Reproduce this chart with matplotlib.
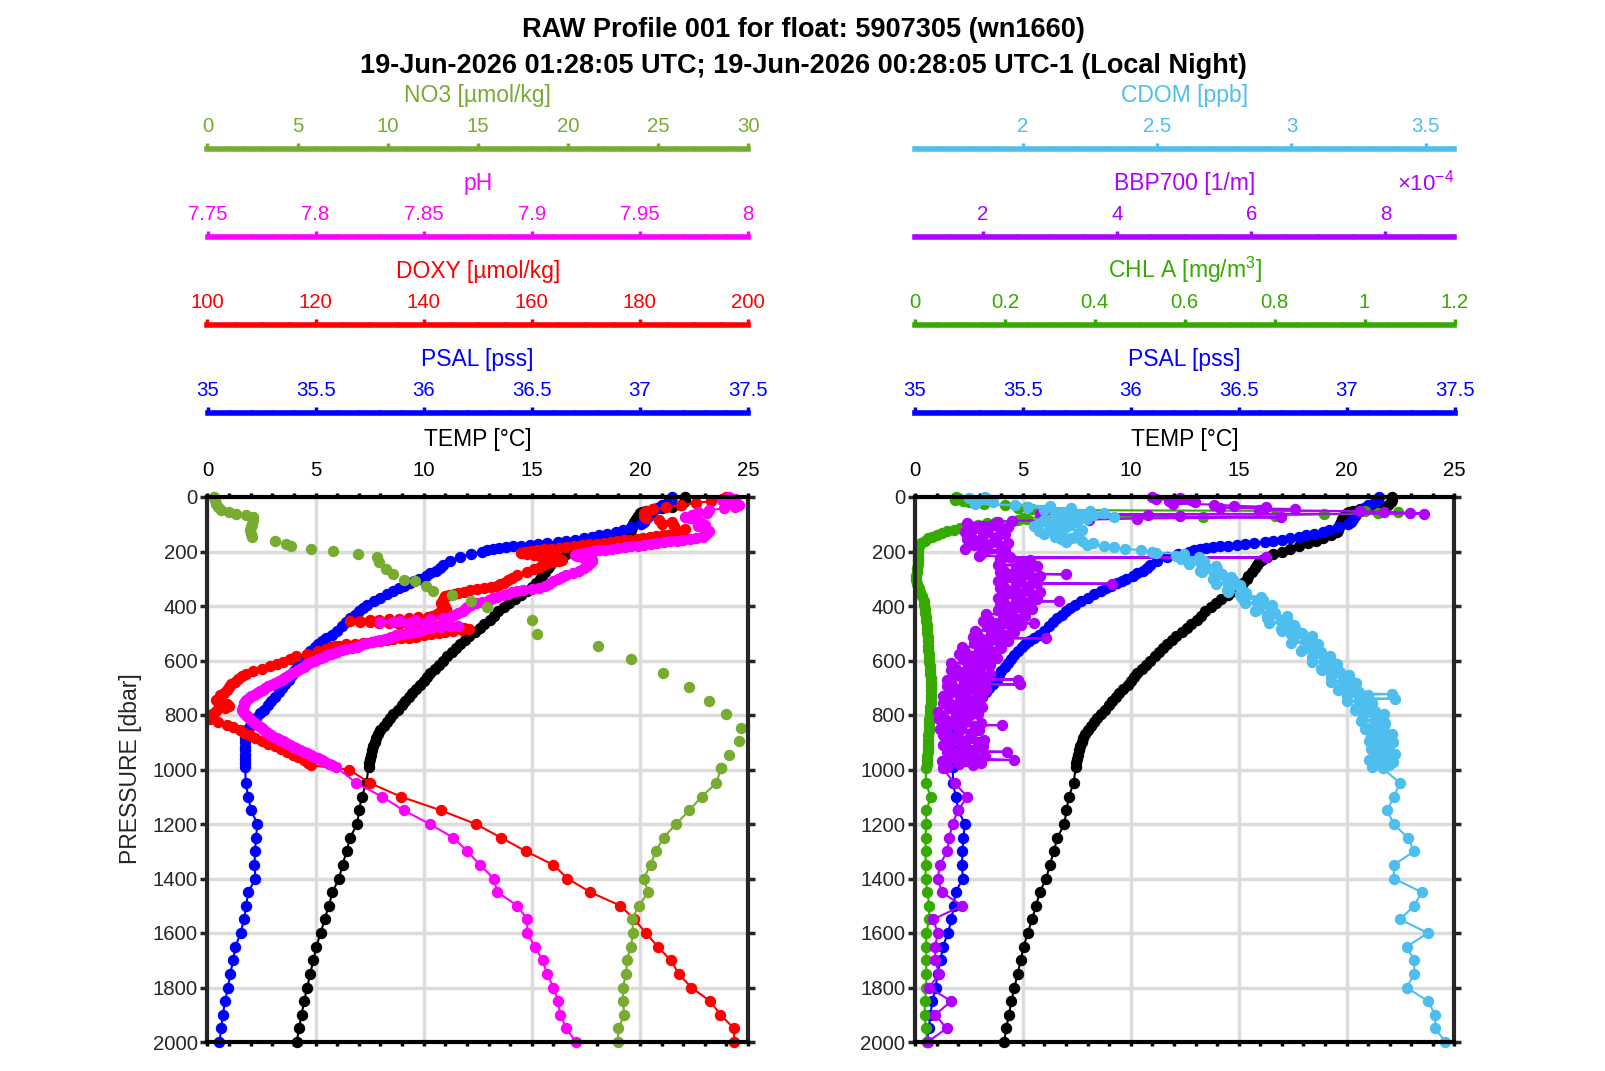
import matplotlib
matplotlib.use('Agg')
import matplotlib.pyplot as plt
from matplotlib.ticker import MultipleLocator, FuncFormatter

plt.rcParams['font.family'] = ['Liberation Sans', 'DejaVu Sans']
plt.rcParams['mathtext.fontset'] = 'custom'
plt.rcParams['mathtext.rm'] = 'Liberation Sans'
plt.rcParams['mathtext.it'] = 'Liberation Sans:italic'
plt.rcParams['mathtext.bf'] = 'Liberation Sans:bold'

# ---------------- data (pressure [dbar], value) ----------------
DEEP_P = [1050, 1100, 1150, 1200, 1250, 1300, 1350, 1400, 1450, 1500,
          1550, 1600, 1650, 1700, 1750, 1800, 1850, 1900, 1950, 2000]

TEMP_UPPER = [(0,22.1),(10,22.1),(20,22.05),(30,21.9),(35,21.5),(40,21.0),(45,20.6),(50,20.3),(55,20.1),
    (60,20.0),(70,19.9),(80,19.8),(90,19.75),(100,19.7),(110,19.65),(120,19.6),(130,19.55),(140,19.3),
    (150,18.9),(160,18.56),(170,18.2),(180,17.8),(190,17.4),(200,17.0),(210,16.6),(220,16.3),(230,16.1),
    (240,15.95),(250,15.85),(260,15.75),(275,15.6),(290,15.45),(300,15.4),(315,15.2),(330,15.0),
    (345,14.76),(360,14.5),(375,14.2),(390,13.93),(405,13.7),(420,13.45),(435,13.25),(450,13.05),
    (465,12.8),(480,12.6),(495,12.35),(510,12.1),(525,11.9),(540,11.7),(555,11.5),(570,11.3),(585,11.1),
    (600,10.9),(615,10.7),(630,10.5),(645,10.3),(660,10.15),(675,10.0),(690,9.85),(705,9.65),(720,9.45),
    (735,9.3),(750,9.15),(765,9.0),(780,8.8),(795,8.6),(810,8.45),(825,8.3),(840,8.15),(855,8.0),
    (870,7.9),(885,7.8),(900,7.75),(915,7.65),(930,7.6),(945,7.55),(960,7.5),(975,7.48),(990,7.45)]
TEMP_DEEP = [7.35, 7.13, 7.02, 6.92, 6.60, 6.43, 6.25, 6.08, 5.78, 5.61,
             5.42, 5.23, 5.03, 4.90, 4.75, 4.61, 4.47, 4.35, 4.23, 4.13]

PSAL_UPPER = [(0,37.150),(10,37.145),(20,37.130),(30,37.100),(40,37.080),(50,37.060),(60,37.047),(70,37.040),
    (80,37.030),(90,37.020),(100,37.006),(110,36.960),(120,36.920),(128,36.890),(135,36.850),(141,36.810),
    (147,36.780),(152,36.740),(157,36.700),(161,36.660),(165,36.620),(169,36.570),(172,36.530),(175,36.490),
    (178,36.450),(181,36.415),(184,36.380),(187,36.350),(190,36.320),(195,36.295),(200,36.270),(209,36.220),
    (220,36.170),(234,36.120),(250,36.090),(260,36.075),(271,36.055),(280,36.030),(290,36.010),(300,35.980),
    (308,35.957),(317,35.935),(325,35.910),(335,35.885),(345,35.860),(357,35.830),(370,35.800),(382,35.770),
    (395,35.740),(408,35.720),(420,35.700),(432,35.680),(444,35.660),(460,35.640),(475,35.620),(490,35.600),
    (506,35.575),(518,35.550),(530,35.530),(540,35.510),(549,35.495),(565,35.475),(580,35.460),(595,35.445),
    (610,35.430),(625,35.415),(640,35.400),(655,35.390),(671,35.378),(685,35.360),(700,35.345),(716,35.330),
    (733,35.310),(750,35.295),(765,35.280),(780,35.260),(794,35.245),(810,35.225),(825,35.210),(840,35.195),
    (855,35.180),(870,35.175),(885,35.172),(900,35.172),(916,35.172),(930,35.172),(945,35.172),(960,35.172),
    (977,35.173),(990,35.175)]
PSAL_DEEP = [35.176, 35.189, 35.201, 35.231, 35.224, 35.220, 35.217, 35.222, 35.188, 35.179,
             35.169, 35.153, 35.129, 35.119, 35.105, 35.095, 35.081, 35.071, 35.064, 35.055]

DOXY_UPPER = [(0,195.9),(8,195.2),(15,193.2),(22,190.4),(30,187.6),(38,184.8),(45,182.4),(52,181.2),(60,180.8),
    (68,180.8),(76,181.2),(84,183.6),(92,186.0),(100,184.0),(108,186.4),(116,188.4),(124,188.0),(131,186.4),
    (138,185.2),(141,184.2),(144,183.0),(147,181.8),(150,180.6),(153,179.4),(156,178.2),(159,177.0),(162,175.8),
    (165,174.6),(168,173.4),(171,172.0),(174,170.6),(177,169.2),(180,167.8),(183,166.4),(186,165.0),(189,163.6),
    (192,162.2),(195,161.0),(198,159.8),(201,158.8),(204,158.0),(207,158.4),(210,159.2),(213,160.4),(216,161.6),
    (219,162.8),(222,164.0),(226,165.0),(230,165.6),(234,165.0),(238,164.0),(242,162.8),(246,162.2),(250,162.0),
    (258,161.6),(266,160.4),(275,159.2),(285,157.2),(296,156.4),(305,155.6),(315,154.8),(321,154.2),(327,153.6),
    (331,152.4),(335,151.2),(339,149.8),(343,148.6),(347,147.4),(351,146.4),(355,145.6),(360,144.6),(365,144.0),
    (372,143.8),(378,143.6),(384,143.3),(390,143.2),(395,143.4),(400,143.6),(405,144.0),(410,144.2),(415,143.8),
    (420,143.2),(425,142.8),(430,142.4),(435,141.6),(440,140.8),(442,139.0),(444,137.2),(446,135.4),(448,133.6),
    (450,131.8),(452,130.0),(454,128.2),(456,126.4),(458,128.2),(460,130.0),(462,131.8),(464,133.6),(466,135.4),
    (468,137.2),(470,139.0),(472,140.8),(474,142.6),(476,144.4),(478,146.0),(481,147.4),(484,148.4),(488,147.0),
    (492,145.4),(496,144.0),(500,142.8),(504,141.4),(508,140.0),(512,138.6),(516,137.2),(519,135.8),(522,134.4),
    (525,133.2),(529,132.0),(532,130.4),(535,128.8),(538,127.2),(541,125.6),(545,124.4),(548,123.6),(552,122.8),
    (556,122.0),(565,120.4),(575,118.4),(585,116.4),(595,115.2),(605,114.0),(612,112.8),(620,111.6),(630,110.0),
    (639,108.4),(648,107.2),(658,106.4),(668,105.6),(678,105.0),(688,104.4),(698,104.0),(708,103.6),(718,103.0),
    (728,102.4),(737,102.2),(745,101.6),(752,102.0),(760,103.6),(768,104.0),(776,103.2),(786,101.6),(796,100.8),
    (806,100.5),(816,100.5),(825,102.0),(835,103.6),(845,104.8),(855,106.0),(865,106.8),(875,107.8),(885,108.8),
    (895,110.0),(905,111.2),(915,112.4),(925,113.6),(935,114.8),(945,115.8),(955,116.8),(965,117.8),(975,118.6),
    (985,119.2),(1000,126.1)]
DOXY_DEEP = [130.1, 135.8, 143.2, 149.6, 154.3, 158.9, 164.0, 166.6, 170.8, 176.4,
             179.0, 181.1, 183.3, 185.7, 187.2, 189.5, 193.0, 194.9, 197.4, 197.4]

PH_UPPER = [(0,7.991),(6,7.994),(12,7.988),(18,7.993),(24,7.994),(30,7.996),(36,7.994),(42,7.989),(48,7.982),
    (54,7.977),(60,7.981),(66,7.974),(72,7.971),(78,7.973),(84,7.976),(90,7.978),(96,7.978),(102,7.980),
    (108,7.977),(114,7.980),(120,7.981),(126,7.982),(132,7.981),(138,7.980),(144,7.979),(148,7.979),(151,7.976),
    (154,7.973),(157,7.970),(160,7.967),(163,7.964),(166,7.961),(169,7.958),(172,7.955),(175,7.952),(178,7.949),
    (181,7.946),(184,7.943),(187,7.940),(190,7.937),(193,7.934),(196,7.931),(199,7.929),(202,7.927),(205,7.924),
    (208,7.922),(212,7.920),(216,7.921),(220,7.923),(225,7.926),(230,7.928),(236,7.928),(242,7.927),(248,7.926),
    (255,7.925),(262,7.924),(270,7.922),(278,7.919),(286,7.916),(294,7.914),(302,7.912),(310,7.910),(318,7.908),
    (326,7.906),(334,7.9035),(338,7.900),(342,7.896),(346,7.893),(350,7.891),(355,7.889),(360,7.887),(366,7.884),
    (372,7.882),(378,7.880),(384,7.877),(390,7.874),(396,7.872),(402,7.870),(410,7.869),(418,7.868),(426,7.866),
    (434,7.864),(440,7.862),(445,7.859),(448,7.853),(451,7.846),(454,7.839),(457,7.830),(460,7.836),(463,7.843),
    (466,7.851),(469,7.858),(472,7.866),(475,7.862),(478,7.858),(482,7.854),(486,7.850),(490,7.848),(494,7.846),
    (498,7.843),(502,7.840),(507,7.837),(512,7.835),(516,7.834),(520,7.832),(525,7.830),(529,7.828),(533,7.826),
    (537,7.824),(541,7.822),(545,7.820),(549,7.819),(553,7.817),(558,7.814),(562,7.812),(567,7.810),(571,7.8085),
    (576,7.807),(581,7.8055),(586,7.804),(590,7.8025),(595,7.801),(600,7.7995),(605,7.798),(610,7.797),(614,7.796),
    (619,7.7953),(623,7.7945),(629,7.7932),(635,7.792),(641,7.7905),(647,7.789),(653,7.7878),(659,7.7865),
    (665,7.7855),(671,7.7845),(677,7.783),(683,7.781),(689,7.7795),(695,7.778),(701,7.7768),(707,7.7755),
    (713,7.7742),(720,7.773),(726,7.7715),(732,7.770),(738,7.769),(745,7.768),(751,7.7675),(757,7.767),
    (763,7.7668),(769,7.7665),(775,7.7663),(781,7.766),(787,7.7665),(793,7.767),(799,7.7678),(805,7.7685),
    (811,7.7692),(818,7.770),(824,7.771),(830,7.772),(836,7.773),(842,7.774),(848,7.775),(855,7.776),(861,7.777),
    (867,7.778),(873,7.7793),(879,7.7805),(885,7.782),(891,7.7835),(897,7.785),(903,7.7865),(909,7.788),
    (916,7.7895),(922,7.791),(928,7.793),(934,7.7945),(940,7.796),(946,7.7977),(953,7.7994),(959,7.801),
    (965,7.803),(971,7.8045),(978,7.806),(984,7.8075),(990,7.8093)]
PH_DEEP = [7.8189, 7.8308, 7.8407, 7.8528, 7.8636, 7.8702, 7.8760, 7.8824, 7.8841, 7.8933,
           7.8979, 7.8979, 7.9013, 7.9050, 7.9070, 7.9100, 7.9122, 7.9131, 7.9160, 7.9203]

NO3_UPPER = [(0,0.38),(12,0.42),(24,0.48),(36,0.6),(48,0.77),(55,1.17),(61,1.57),(67,2.16),(73,2.55),(85,2.5),
    (98,2.46),(110,2.4),(122,2.37),(135,2.42),(147,2.46),(160,3.75),(172,4.34),(178,4.64),(191,5.73),(197,6.96),
    (209,8.35),(222,9.40),(240,9.50),(265,9.90),(284,10.3),(303,10.9),(309,11.5),(327,12.1),(346,12.5),
    (361,13.56),(381,14.65),(402,15.5),(451,18.0),(501,18.3),(547,21.7),(596,23.5),(647,25.3),(698,26.7),
    (747,27.84),(797,28.8),(849,29.6),(895,29.5),(947,28.97),(996,28.5)]
NO3_DEEP = [28.24, 27.42, 26.74, 26.01, 25.31, 24.88, 24.59, 24.21, 24.46, 23.95,
            23.55, 23.64, 23.49, 23.28, 23.24, 23.04, 23.08, 23.12, 22.81, 22.77]

CHL_UPPER = [(0,0.091),(5,0.096),(10,0.089),(15,0.106),(20,0.12),(25,0.154),(30,0.20),(35,0.25),(40,0.23),
    (44,0.26),(48,0.29),(52,1.00),(56,1.075),(60,1.03),(64,0.91),(68,0.80),(72,0.64),(76,0.24),(80,0.25),
    (84,0.23),(88,0.216),(92,0.18),(97,0.16),(102,0.14),(108,0.12),(114,0.10),(120,0.086),(126,0.072),
    (132,0.06),(138,0.048),(145,0.038),(152,0.029),(160,0.022),(170,0.014),(180,0.0096),(190,0.007),
    (200,0.006),(215,0.006),(230,0.0058),(245,0.006),(260,0.005),(275,0.004),(290,0.003),(305,0.003),
    (320,0.005),(335,0.008),(350,0.012),(365,0.016),(380,0.019),(395,0.021),(410,0.022),(425,0.023),
    (440,0.024),(455,0.025),(470,0.026),(485,0.027),(500,0.027),(515,0.028),(530,0.028),(545,0.029),
    (560,0.03),(575,0.031),(590,0.032),(605,0.032),(620,0.033),(635,0.033),(650,0.034),(665,0.035),
    (680,0.035),(695,0.036),(710,0.036),(725,0.035),(740,0.035),(755,0.035),(770,0.034),(785,0.033),
    (800,0.033),(815,0.032),(830,0.032),(845,0.031),(860,0.031),(875,0.03),(890,0.03),(905,0.029),
    (920,0.029),(935,0.028),(950,0.027),(965,0.027),(980,0.026),(995,0.025)]
CHL_DEEP = [0.0235, 0.0355, 0.025, 0.025, 0.0235, 0.0235, 0.0235, 0.0235, 0.0274, 0.0317,
            0.0317, 0.025, 0.025, 0.025, 0.025, 0.025, 0.0216, 0.0216, 0.0235, 0.0274]

# BBP700 in units of 1e-4 1/m
BBP_UPPER_E4 = [(0,4.52),(4,4.94),(8,4.58),(12,5.10),(16,4.78),(20,5.16),(24,4.84),(28,5.45),(32,5.74),
    (36,6.22),(40,5.54),(44,6.66),(48,6.12),(52,7.62),(55,7.98),(58,8.36),(61,8.58),(63,2.86),(67,4.46),
    (71,4.94),(75,6.44),(79,4.30),(83,3.59),(87,2.44),(91,2.22),
    (95,1.77),(100,2.17),(105,1.97),(110,2.37),(115,1.87),(120,2.27),(125,2.07),(130,1.74),(135,2.33),
    (140,2.01),(145,2.21),(150,1.84),(155,1.77),(160,2.17),(165,1.97),(170,2.37),(175,1.87),(180,2.27),
    (185,2.07),(190,1.74),(195,2.33),(200,2.01),(205,2.29),(210,1.97),(215,1.95),(220,2.40),(222,6.22),
    (225,2.25),(230,2.70),(235,2.25),(240,2.70),(245,2.55),(250,2.22),(255,2.81),(260,2.49),(265,2.69),
    (270,2.32),(275,2.25),(280,2.65),(284,3.24),(285,2.45),(290,2.85),(295,2.35),(300,2.75),(305,2.55),
    (310,2.22),(315,2.81),(318,3.93),(320,2.49),(325,2.69),(330,2.32),(335,2.25),(340,2.65),(345,2.45),
    (350,2.85),(355,2.35),(360,2.75),(365,2.55),(370,2.22),(375,2.81),(380,2.49),(383,3.13),(385,2.69),
    (390,2.32),(395,2.25),(400,2.65),(405,2.35),(410,2.74),(415,2.22),(420,2.61),(425,2.40),(430,2.05),
    (435,2.63),(440,2.30),(445,2.48),(450,2.10),(455,2.01),(460,2.40),(464,2.76),(465,2.19),(470,2.57),
    (475,2.06),(480,2.44),(485,2.23),(490,1.88),(495,2.46),(500,2.13),(505,2.31),(510,1.93),(515,1.85),
    (519,2.94),(520,2.25),(525,2.00),(530,2.38),(535,1.87),(540,2.26),(545,2.04),(550,1.69),(555,2.27),
    (560,1.94),(565,2.12),(570,1.74),(575,1.65),(580,2.04),(585,1.82),(590,2.21),(595,1.70),(600,2.08),
    (605,1.87),(610,1.53),(615,2.11),(620,1.78),(625,1.97),(630,1.60),(635,1.52),(640,1.92),(645,1.71),
    (650,2.11),(655,1.60),(660,2.00),(665,1.79),(670,2.53),(672,1.46),(675,2.04),(680,1.72),(685,1.91),
    (688,2.56),(690,1.54),(695,1.46),(700,1.86),(705,1.65),(710,2.05),(715,1.54),(720,1.94),(725,1.73),
    (730,1.40),(735,1.98),(740,1.66),(745,1.85),(750,1.48),(755,1.40),(760,1.80),(765,1.60),(770,1.99),
    (775,1.49),(780,1.88),(785,1.68),(790,1.34),(795,1.93),(800,1.60),(805,1.80),(810,1.42),(815,1.35),
    (820,1.75),(825,1.56),(830,1.97),(835,1.47),(837,2.28),(840,1.88),(845,1.68),(850,1.36),(855,1.95),
    (860,1.64),(865,1.84),(870,1.47),(875,1.41),(880,1.81),(885,1.62),(890,2.02),(895,1.53),(900,1.93),
    (905,1.74),(910,1.41),(915,2.01),(920,1.69),(925,1.90),(930,1.53),(935,2.36),(937,1.46),(940,1.85),
    (945,1.65),(950,2.04),(955,1.54),(960,1.93),(965,2.47),(967,1.73),(970,1.39),(975,1.98),(980,1.65),
    (985,1.85),(990,1.47),(995,1.40)]
BBP_DEEP_E4 = [1.58, 1.77, 1.63, 1.55, 1.50, 1.47, 1.36, 1.33, 1.39, 1.69,
               1.26, 1.33, 1.29, 1.29, 1.35, 1.20, 1.53, 1.29, 1.46, 1.18]

CDOM_UPPER = [(0,1.86),(5,1.80),(10,1.88),(15,1.83),(20,1.89),(25,1.82),(30,1.97),(34,2.10),(38,2.02),
    (42,2.18),(46,2.08),(50,2.25),(54,2.16),(58,2.30),(62,2.12),(66,2.26),(70,2.20),(74,2.34),(78,2.14),
    (82,2.24),(86,2.08),(90,2.20),(95,2.06),(100,2.18),(105,2.04),(110,2.16),(115,2.10),(120,2.22),(125,2.06),
    (130,2.14),(135,2.08),(140,2.20),(145,2.12),(150,2.18),(155,2.14),(160,2.22),(165,2.16),(170,2.26),
    (175,2.24),(180,2.30),(185,2.34),(190,2.38),(195,2.44),(200,2.48),
    (204,2.495),(210,2.60),(216,2.57),(222,2.655),(228,2.587),(234,2.673),(240,2.66),(246,2.618),(252,2.719),
    (258,2.68),(264,2.723),(270,2.661),(276,2.665),(282,2.74),(288,2.71),(294,2.775),(300,2.707),(306,2.783),
    (312,2.76),(318,2.718),(324,2.809),(330,2.77),(336,2.813),(342,2.761),(348,2.765),(354,2.83),(360,2.81),
    (366,2.885),(372,2.817),(378,2.893),(384,2.87),(390,2.828),(396,2.929),(402,2.88),(408,2.923),(414,2.871),
    (420,2.865),(426,2.94),(432,2.91),(438,2.985),(444,2.907),(450,2.983),(456,2.96),(462,2.918),(468,3.009),
    (474,2.97),(480,3.013),(486,2.961),(492,2.965),(498,3.04),(504,3.00),(510,3.075),(516,3.007),(522,3.073),
    (528,3.05),(534,2.998),(540,3.099),(546,3.06),(552,3.093),(558,3.041),(564,3.035),(570,3.11),(576,3.08),
    (582,3.145),(588,3.077),(594,3.143),(600,3.12),(606,3.078),(612,3.169),(618,3.13),(624,3.163),(630,3.111),
    (636,3.115),(642,3.18),(648,3.15),(654,3.215),(660,3.147),(666,3.213),(672,3.19),(678,3.148),(684,3.239),
    (690,3.20),(696,3.233),(702,3.181),(708,3.175),(714,3.25),(720,3.21),(723,3.375),(726,3.285),(732,3.207),
    (738,3.283),(740,3.385),(744,3.25),(750,3.208),(756,3.299),(762,3.26),(768,3.293),(774,3.241),(780,3.235),
    (786,3.31),(792,3.27),(798,3.345),(804,3.267),(810,3.333),(816,3.31),(822,3.258),(828,3.349),(834,3.31),
    (840,3.343),(846,3.281),(852,3.275),(858,3.34),(864,3.31),(870,3.375),(876,3.297),(882,3.363),(888,3.33),
    (894,3.288),(900,3.379),(906,3.33),(912,3.363),(918,3.301),(924,3.295),(930,3.36),(936,3.32),(942,3.385),
    (948,3.307),(954,3.373),(960,3.34),(966,3.288),(972,3.379),(978,3.33),(984,3.363),(990,3.301),(996,3.34)]
CDOM_DEEP = [3.404, 3.381, 3.356, 3.381, 3.432, 3.457, 3.381, 3.381, 3.485, 3.457,
             3.404, 3.508, 3.429, 3.457, 3.457, 3.429, 3.508, 3.535, 3.535, 3.573]

TITLE_1 = 'RAW Profile 001 for float: 5907305 (wn1660)'
TITLE_2 = '19-Jun-2026 01:28:05 UTC; 19-Jun-2026 00:28:05 UTC-1 (Local Night)'

# ---------------- styling ----------------
C_TEMP, C_PSAL, C_DOXY, C_PH, C_NO3 = 'black', '#0000FF', '#FF0000', '#FF00FF', '#77AC30'
C_CDOM, C_BBP, C_CHL = '#4DBEEE', '#B000FF', '#36AA00'
DARK = '#262626'
TICK_FS, LABEL_FS, TITLE_FS = 14.7, 16.5, 19.5

W, H = 1606, 1071
fig = plt.figure(figsize=(W / 100, H / 100), dpi=100)
fig.patch.set_facecolor('white')


def fx(px):
    return px / W


def fy(py):
    return 1 - py / H


MAIN_TOP, MAIN_BOT = 497, 1042
PANELS = {'left': (207.5, 748.0), 'right': (915.0, 1454.5)}
LINE_Y = [149, 237, 325, 413]


def gfmt(scale=1.0):
    return FuncFormatter(lambda v, p: '%g' % round(v * scale, 6))


def main_axes(x0, x1):
    rect = [fx(x0), fy(MAIN_BOT), fx(x1 - x0), (MAIN_BOT - MAIN_TOP) / H]
    ax = fig.add_axes(rect, zorder=0)
    ax.set_xlim(0, 25)
    ax.set_ylim(2000, 0)
    ax.xaxis.set_major_locator(MultipleLocator(5))
    ax.xaxis.set_minor_locator(MultipleLocator(1))
    ax.yaxis.set_major_locator(MultipleLocator(200))
    ax.xaxis.set_major_formatter(gfmt())
    ax.xaxis.set_label_position('top')
    ax.tick_params(axis='x', which='both', top=True, bottom=True, labeltop=True, labelbottom=False,
                   direction='out', width=2.5, color='black', labelsize=TICK_FS, labelcolor='black')
    ax.tick_params(axis='x', which='major', length=3, pad=9.3)
    ax.tick_params(axis='x', which='minor', length=3)
    ax.tick_params(axis='y', which='major', left=True, right=True, direction='out', length=5,
                   width=2.5, color=DARK, labelsize=TICK_FS, labelcolor=DARK, pad=2)
    ax.set_xlabel('TEMP [°C]', fontsize=LABEL_FS, color='black', labelpad=11)
    ax.grid(True, which='major', color='#dcdcdc', linewidth=2.5)
    for s in ax.spines.values():
        s.set_visible(False)
    frame = fig.add_axes(rect, zorder=5)
    frame.patch.set_visible(False)
    frame.set_xticks([])
    frame.set_yticks([])
    for k, s in frame.spines.items():
        s.set_linewidth(3)
        s.set_color('black' if k in ('top', 'bottom') else DARK)
    return ax, rect


def data_axes(rect, lo, hi, z):
    dax = fig.add_axes(rect, zorder=z)
    dax.set_xlim(lo, hi)
    dax.set_ylim(2000, 0)
    dax.axis('off')
    dax.patch.set_visible(False)
    return dax


def scale_axes(x0, x1, yline, lo, hi, major, minor, color, label, scale=1.0):
    ax = fig.add_axes([fx(x0), fy(yline), fx(x1 - x0), 0.0001], zorder=3)
    ax.set_xlim(lo, hi)
    ax.set_yticks([])
    ax.patch.set_visible(False)
    for k in ('left', 'right', 'bottom'):
        ax.spines[k].set_visible(False)
    ax.spines['top'].set_color(color)
    ax.spines['top'].set_linewidth(4)
    ax.xaxis.tick_top()
    ax.xaxis.set_label_position('top')
    ax.xaxis.set_major_locator(MultipleLocator(major))
    ax.xaxis.set_minor_locator(MultipleLocator(minor))
    ax.xaxis.set_major_formatter(gfmt(scale))
    ax.tick_params(axis='x', which='major', direction='out', length=4.5, width=2.5, color=color,
                   labelcolor=color, labelsize=TICK_FS, pad=4.7)
    ax.tick_params(axis='x', which='minor', direction='out', length=2.5, width=2.5, color=color)
    ax.set_xlabel(label, color=color, fontsize=LABEL_FS, labelpad=11)
    return ax


def series(upper, deep_vals):
    p = [a for a, b in upper] + DEEP_P
    v = [b for a, b in upper] + list(deep_vals)
    return v, p


MK = dict(marker='o', markersize=7.2, linewidth=1.5, clip_on=False)

# ---------------- left panel ----------------
lx0, lx1 = PANELS['left']
axL, rectL = main_axes(lx0, lx1)
for i, (lo, hi, mj, mn, col, lab) in enumerate([
        (0, 30, 5, 1, C_NO3, 'NO3 [µmol/kg]'),
        (7.75, 8.0, 0.05, 0.01, C_PH, 'pH'),
        (100, 200, 20, 5, C_DOXY, 'DOXY [µmol/kg]'),
        (35, 37.5, 0.5, 0.1, C_PSAL, 'PSAL [pss]')]):
    scale_axes(lx0, lx1, LINE_Y[i], lo, hi, mj, mn, col, lab)

d = data_axes(rectL, 0, 25, 1)
v, p = series(TEMP_UPPER, TEMP_DEEP)
d.plot(v, p, color=C_TEMP, mfc=C_TEMP, mec=C_TEMP, **MK)
d = data_axes(rectL, 35, 37.5, 1.1)
v, p = series(PSAL_UPPER, PSAL_DEEP)
d.plot(v, p, color=C_PSAL, mfc=C_PSAL, mec=C_PSAL, **MK)
d = data_axes(rectL, 100, 200, 1.2)
v, p = series(DOXY_UPPER, DOXY_DEEP)
d.plot(v, p, color=C_DOXY, mfc=C_DOXY, mec=C_DOXY, **MK)
d = data_axes(rectL, 7.75, 8.0, 1.3)
v, p = series(PH_UPPER, PH_DEEP)
d.plot(v, p, color=C_PH, mfc=C_PH, mec=C_PH, **MK)
d = data_axes(rectL, 0, 30, 1.4)
d.plot([b for a, b in NO3_UPPER], [a for a, b in NO3_UPPER], linestyle='none', marker='o',
       markersize=7.2, color=C_NO3, clip_on=False)
d.plot([NO3_UPPER[-1][1]] + NO3_DEEP, [NO3_UPPER[-1][0]] + DEEP_P, color=C_NO3, mfc=C_NO3, mec=C_NO3, **MK)

# ---------------- right panel ----------------
rx0, rx1 = PANELS['right']
axR, rectR = main_axes(rx0, rx1)
for i, (lo, hi, mj, mn, col, lab, sc) in enumerate([
        (1.598, 3.607, 0.5, 0.1, C_CDOM, 'CDOM [ppb]', 1.0),
        (0.99e-4, 9.03e-4, 2e-4, 0.5e-4, C_BBP, 'BBP700 [1/m]', 1e4),
        (0, 1.2, 0.2, 0.05, C_CHL, 'CHL A [mg/m$^3$]', 1.0),
        (35, 37.5, 0.5, 0.1, C_PSAL, 'PSAL [pss]', 1.0)]):
    scale_axes(rx0, rx1, LINE_Y[i], lo, hi, mj, mn, col, lab, sc)
fig.text(fx(rx1), fy(191), r'$\times10^{-4}$', color=C_BBP, fontsize=16, ha='right', va='baseline')

d = data_axes(rectR, 0, 25, 1)
v, p = series(TEMP_UPPER, TEMP_DEEP)
d.plot(v, p, color=C_TEMP, mfc=C_TEMP, mec=C_TEMP, **MK)
d = data_axes(rectR, 35, 37.5, 1.1)
v, p = series(PSAL_UPPER, PSAL_DEEP)
d.plot(v, p, color=C_PSAL, mfc=C_PSAL, mec=C_PSAL, **MK)
d = data_axes(rectR, 0, 1.2, 1.2)
v, p = series(CHL_UPPER, CHL_DEEP)
d.plot(v, p, color=C_CHL, mfc=C_CHL, mec=C_CHL, **MK)
d = data_axes(rectR, 0.99e-4, 9.03e-4, 1.3)
p = [a for a, b in BBP_UPPER_E4] + DEEP_P
v = [b * 1e-4 for a, b in BBP_UPPER_E4] + [b * 1e-4 for b in BBP_DEEP_E4]
d.plot(v, p, color=C_BBP, mfc=C_BBP, mec=C_BBP, **MK)
d = data_axes(rectR, 1.598, 3.607, 1.4)
v, p = series(CDOM_UPPER, CDOM_DEEP)
d.plot(v, p, color=C_CDOM, mfc=C_CDOM, mec=C_CDOM, **MK)

# ---------------- titles ----------------
fig.text(0.5, fy(30), TITLE_1, ha='center', va='center', fontsize=TITLE_FS, fontweight='bold')
fig.text(0.5, fy(66), TITLE_2, ha='center', va='center', fontsize=TITLE_FS, fontweight='bold')
fig.text(fx(131), fy(769), 'PRESSURE [dbar]', rotation=90, ha='center', va='center',
         fontsize=LABEL_FS, color=DARK)

fig.savefig('out.png', dpi=100, facecolor='white')
